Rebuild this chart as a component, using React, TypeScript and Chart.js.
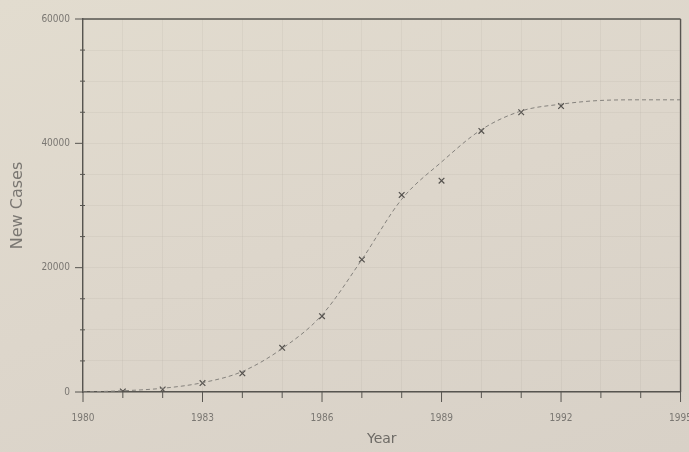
import React, { useEffect, useRef } from "react";
import { Chart, registerables } from "chart.js";

Chart.register(...registerables);

// Fitted (logistic) curve, read at yearly points
const curveYears = [1980, 1981, 1982, 1983, 1984, 1985, 1986, 1987, 1988, 1989, 1990, 1991, 1992, 1993, 1994, 1995];
const curveValues = [0, 200, 600, 1500, 3300, 7000, 12400, 21300, 31000, 37000, 42200, 45200, 46300, 46900, 47000, 47000];

// Observed new cases (x markers)
const obsYears = [1981, 1982, 1983, 1984, 1985, 1986, 1987, 1988, 1989, 1990, 1991, 1992];
const obsValues = [100, 400, 1430, 3000, 7100, 12200, 21300, 31700, 34000, 42000, 45000, 46000];

const xLabelYears = [1980, 1983, 1986, 1989, 1992, 1995];
const yLabelValues = [0, 20000, 40000, 60000];

const AXIS = "#575550";
const TEXT = "#7a7772";

const framePlugin = {
  id: "frame",
  afterDraw(chart: any) {
    const { ctx, chartArea } = chart;
    const { left, right, top, bottom } = chartArea;
    const xs = chart.scales.x;
    const ys = chart.scales.y;
    ctx.save();
    ctx.strokeStyle = AXIS;
    ctx.lineWidth = 1.4;
    ctx.beginPath();
    ctx.moveTo(left, top);
    ctx.lineTo(right, top);
    ctx.moveTo(right, top);
    ctx.lineTo(right, bottom);
    ctx.stroke();
    ctx.lineWidth = 1;
    // x ticks
    for (let yr = 1980; yr <= 1995; yr++) {
      const px = xs.getPixelForValue(yr);
      const len = xLabelYears.includes(yr) ? 10 : 6;
      ctx.beginPath();
      ctx.moveTo(px, bottom);
      ctx.lineTo(px, bottom + len);
      ctx.stroke();
    }
    // y ticks
    for (let v = 0; v <= 60000; v += 5000) {
      const py = ys.getPixelForValue(v);
      const major = yLabelValues.includes(v);
      ctx.beginPath();
      ctx.moveTo(left - (major ? 8 : 3), py);
      ctx.lineTo(left + (major ? 0 : 2), py);
      ctx.stroke();
    }
    ctx.restore();
  },
};

export default function App() {
  const ref = useRef<HTMLCanvasElement | null>(null);

  useEffect(() => {
    const canvas = ref.current;
    if (!canvas) return;
    const chart = new Chart(canvas, {
      type: "scatter",
      data: {
        datasets: [
          {
            type: "line",
            label: "Fit",
            data: curveYears.map((x, i) => ({ x, y: curveValues[i] })),
            borderColor: "#85827d",
            borderWidth: 1,
            borderDash: [4, 3],
            pointRadius: 0,
            cubicInterpolationMode: "monotone",
            fill: false,
          } as any,
          {
            label: "New Cases",
            data: obsYears.map((x, i) => ({ x, y: obsValues[i] })),
            pointStyle: "crossRot",
            pointRadius: 4,
            borderColor: "#55524e",
            backgroundColor: "#55524e",
            borderWidth: 1.2,
          },
        ],
      },
      options: {
        responsive: false,
        animation: false,
        layout: { padding: { left: 0, right: 7, top: 14, bottom: 0 } },
        plugins: { legend: { display: false }, tooltip: { enabled: false } },
        scales: {
          x: {
            type: "linear",
            min: 1980,
            max: 1995,
            border: { color: AXIS, width: 1.4 },
            grid: { color: "rgba(0,0,0,0.035)", drawTicks: false },
            ticks: {
              stepSize: 1,
              padding: 20,
              color: TEXT,
              maxRotation: 0,
              autoSkip: false,
              font: { family: "DejaVu Sans Condensed, DejaVu Sans", size: 10 },
              callback: (v: any) => (xLabelYears.includes(Number(v)) ? String(v) : ""),
            },
            title: {
              display: true,
              text: "Year",
              color: "#6e6b66",
              font: { family: "DejaVu Sans", size: 14 },
              padding: { top: 4, bottom: 4 },
            },
            afterFit: (s: any) => {
              s.height = 60;
            },
          },
          y: {
            min: 0,
            max: 60000,
            border: { color: AXIS, width: 1.4 },
            grid: { color: "rgba(0,0,0,0.035)", drawTicks: false },
            ticks: {
              stepSize: 5000,
              padding: 13,
              color: TEXT,
              autoSkip: false,
              font: { family: "DejaVu Sans Condensed, DejaVu Sans", size: 10 },
              callback: (v: any) => (yLabelValues.includes(Number(v)) ? String(v) : ""),
            },
            title: {
              display: true,
              text: "New Cases",
              color: "#7a7772",
              font: { family: "DejaVu Sans", size: 16 },
              padding: { top: 8, bottom: 0 },
            },
            afterFit: (s: any) => {
              s.width = 83;
            },
          },
        },
      },
      plugins: [framePlugin],
    });
    return () => chart.destroy();
  }, []);

  return (
    <div
      style={{
        position: "fixed",
        left: 0,
        top: 0,
        width: 689,
        height: 452,
        overflow: "hidden",
        background: "linear-gradient(160deg, #e2dccf 0%, #ddd6cb 50%, #d8d1c7 100%)",
      }}
    >
      <canvas ref={ref} width={712} height={452} style={{ display: "block" }} />
    </div>
  );
}
